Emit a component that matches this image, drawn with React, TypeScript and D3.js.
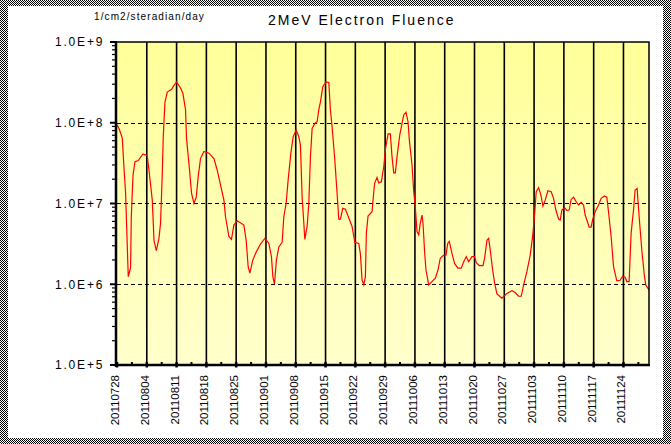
import * as d3 from "d3";
import { useEffect, useRef } from "react";

// weekly tick labels, one every 7 days from 2011-07-28
const tickLabels = [
  "20110728", "20110804", "20110811", "20110818", "20110825", "20110901",
  "20110908", "20110915", "20110922", "20110929", "20111006", "20111013",
  "20111020", "20111027", "20111103", "20111110", "20111117", "20111124",
];
const totalDays = 125; // 20110728 .. 20111130

const decades = [1e5, 1e6, 1e7, 1e8, 1e9];

// days since 20110728
const dayOffset = [
  0, 0.47, 1.24, 1.64, 2.02, 2.42, 2.65, 3.19, 3.36, 3.76,
  4.23, 5.0, 6.1, 7.11, 7.51, 8.29, 8.69, 9.23, 9.86, 10.23,
  10.63, 10.87, 11.27, 11.81, 12.82, 13.38, 13.99, 14.93, 15.49, 16.1,
  16.34, 17.04, 17.51, 18.08, 18.62, 19.08, 19.62, 20.42, 21.6, 22.77,
  23.54, 24.32, 25.12, 25.49, 26.29, 26.9, 27.46, 28.24, 29.81, 30.35,
  30.82, 31.22, 31.92, 32.7, 33.71, 34.74, 35.68, 36.29, 36.62, 37.0,
  37.46, 38.03, 38.8, 39.2, 39.74, 40.21, 40.85, 41.39, 42.09, 42.72,
  43.1, 43.5, 43.9, 44.13, 44.67, 45.07, 45.45, 45.85, 46.48, 47.02,
  47.42, 47.79, 48.36, 49.13, 49.77, 50.14, 50.54, 51.17, 51.71, 52.11,
  52.49, 53.05, 53.66, 54.46, 55.23, 55.87, 56.81, 57.18, 57.58, 57.98,
  58.36, 58.59, 58.99, 59.93, 60.33, 60.56, 61.1, 61.5, 62.11, 62.68,
  63.05, 63.69, 64.23, 64.62, 65.02, 65.4, 65.8, 66.43, 66.97, 67.37,
  67.91, 68.38, 68.69, 69.32, 69.72, 70.09, 70.49, 70.89, 71.27, 71.67,
  71.9, 72.3, 72.6, 73.24, 74.01, 74.79, 75.42, 75.96, 76.76, 77.3,
  77.7, 78.08, 78.71, 79.34, 80.12, 80.89, 81.46, 82.07, 82.63, 83.4,
  84.04, 84.41, 85.12, 85.99, 86.38, 86.92, 87.32, 87.7, 88.26, 88.73,
  89.27, 90.45, 91.62, 92.79, 93.57, 94.37, 94.98, 95.54, 96.31, 97.09,
  97.65, 98.12, 98.5, 99.06, 99.6, 100.07, 100.61, 101.24, 102.02, 102.58,
  103.12, 103.76, 104.13, 104.53, 105.16, 105.7, 106.24, 106.71, 107.28, 107.89,
  108.45, 109.06, 109.62, 110.0, 110.4, 110.94, 111.41, 111.74, 112.35, 113.15,
  113.76, 114.55, 115.09, 115.49, 116.1, 116.67, 117.44, 118.22, 118.78, 119.39,
  119.79, 120.33, 120.8, 121.36, 121.74, 122.21, 122.68, 123.31, 123.94, 124.25, 125,
];

// 1/cm2/steradian/day
const fluence = [
  9.4e7, 8.5e7, 6.5e7, 2.75e7, 1.35e7, 2.9e6, 1.24e6, 1.6e6, 6.9e6, 2.25e7,
  3.3e7, 3.4e7, 4.1e7, 3.9e7, 2.6e7, 1.1e7, 3.5e6, 2.6e6, 3.7e6, 5.7e6,
  2.25e7, 6.7e7, 1.8e8, 2.4e8, 2.6e8, 2.9e8, 3.2e8, 2.7e8, 2.3e8, 1.45e8,
  6.4e7, 2.6e7, 1.34e7, 1.0e7, 1.2e7, 2.15e7, 3.6e7, 4.4e7, 4.2e7, 3.6e7,
  2.6e7, 1.7e7, 1.1e7, 6.9e6, 3.9e6, 3.6e6, 5.4e6, 6.1e6, 5.4e6, 3.5e6,
  1.65e6, 1.37e6, 2.0e6, 2.5e6, 3.15e6, 3.7e6, 3.2e6, 2.2e6, 1.24e6, 1.0e6,
  2.0e6, 2.9e6, 3.3e6, 6.9e6, 1.0e7, 1.95e7, 4.2e7, 6.7e7, 8.1e7, 6.7e7,
  5.3e7, 1.2e7, 5.7e6, 3.6e6, 5.2e6, 1.0e7, 3.8e7, 8.5e7, 9.8e7, 1.03e8,
  1.45e8, 1.8e8, 2.8e8, 3.2e8, 3.15e8, 1.45e8, 8.9e7, 3.5e7, 1.34e7, 6.4e6,
  6.4e6, 8.7e6, 8.5e6, 6.6e6, 5.2e6, 3.3e6, 3.2e6, 2.4e6, 1.13e6, 9.8e5,
  1.24e6, 4.3e6, 7.0e6, 7.9e6, 1.4e7, 1.8e7, 2.1e7, 1.8e7, 1.85e7, 2.85e7,
  4.6e7, 7.3e7, 7.3e7, 3.8e7, 2.4e7, 2.4e7, 3.8e7, 7.0e7, 9.8e7, 1.25e8,
  1.35e8, 1.03e8, 6.1e7, 3.0e7, 1.4e7, 9.1e6, 4.5e6, 4.1e6, 5.7e6, 7.2e6,
  5.7e6, 2.4e6, 1.5e6, 9.8e5, 1.08e6, 1.19e6, 1.5e6, 2.1e6, 2.3e6, 2.3e6,
  3.2e6, 3.4e6, 2.4e6, 1.8e6, 1.58e6, 1.58e6, 1.9e6, 2.2e6, 1.9e6, 2.2e6,
  2.2e6, 1.85e6, 1.7e6, 1.7e6, 2.1e6, 3.5e6, 3.7e6, 2.65e6, 1.5e6, 1.03e6,
  7.6e5, 6.7e5, 7.7e5, 8.3e5, 7.9e5, 7.1e5, 7.1e5, 9.8e5, 1.43e6, 2.3e6,
  3.9e6, 7.2e6, 1.4e7, 1.57e7, 1.27e7, 9.3e6, 1.1e7, 1.44e7, 1.4e7, 1.16e7,
  8.3e6, 6.4e6, 6.25e6, 8.3e6, 8.9e6, 8.2e6, 8.3e6, 1.13e7, 1.2e7, 1.05e7,
  9.6e6, 1.03e7, 9.6e6, 7.2e6, 6.25e6, 5.1e6, 5.1e6, 6.25e6, 7.9e6, 9.6e6,
  1.16e7, 1.24e7, 1.2e7, 7.9e6, 3.9e6, 1.65e6, 1.1e6, 1.12e6, 1.26e6, 1.22e6,
  1.08e6, 1.08e6, 4.3e6, 8.3e6, 1.47e7, 1.54e7, 6.9e6, 2.65e6, 1.24e6, 9.8e5, 8.5e5,
];

const W = 671;
const H = 444;
const plot = { left: 117, right: 649, top: 42, bottom: 365 };
const font = "Arial, 'Liberation Sans', sans-serif";

const App = () => {
  const svgRef = useRef<SVGSVGElement | null>(null);

  useEffect(() => {
    const svg = d3.select(svgRef.current);
    svg.selectAll("*").remove();

    const x = d3.scaleLinear().domain([0, totalDays]).range([plot.left, plot.right]);
    const y = d3.scaleLog().domain([1e5, 1e9]).range([plot.bottom, plot.top]);

    const defs = svg.append("defs");
    const pat = defs
      .append("pattern")
      .attr("id", "checker")
      .attr("width", 2)
      .attr("height", 2)
      .attr("patternUnits", "userSpaceOnUse");
    pat.append("rect").attr("width", 2).attr("height", 2).attr("fill", "#fff");
    pat.append("rect").attr("width", 1).attr("height", 1).attr("fill", "#000");
    pat.append("rect").attr("x", 1).attr("y", 1).attr("width", 1).attr("height", 1).attr("fill", "#000");

    const grad = defs
      .append("linearGradient")
      .attr("id", "bg")
      .attr("x1", "0%")
      .attr("y1", "0%")
      .attr("x2", "0%")
      .attr("y2", "100%");
    grad.append("stop").attr("offset", "0%").attr("stop-color", "#ffff99");
    grad.append("stop").attr("offset", "100%").attr("stop-color", "#ffffcc");

    defs
      .append("clipPath")
      .attr("id", "plotclip")
      .append("rect")
      .attr("x", plot.left)
      .attr("y", plot.top)
      .attr("width", plot.right - plot.left)
      .attr("height", plot.bottom - plot.top);

    // frame
    svg.append("rect").attr("width", W).attr("height", H).attr("fill", "url(#checker)");
    svg.append("rect").attr("x", 8).attr("y", 6).attr("width", 655).attr("height", 432).attr("fill", "#fff");

    svg
      .append("rect")
      .attr("x", plot.left)
      .attr("y", plot.top)
      .attr("width", plot.right - plot.left)
      .attr("height", plot.bottom - plot.top)
      .attr("fill", "url(#bg)");

    // horizontal dashed grid
    svg
      .append("g")
      .selectAll("line")
      .data(decades.slice(1, -1))
      .enter()
      .append("line")
      .attr("x1", plot.left)
      .attr("x2", plot.right)
      .attr("y1", (d) => Math.round(y(d)) + 0.5)
      .attr("y2", (d) => Math.round(y(d)) + 0.5)
      .attr("stroke", "#000")
      .attr("stroke-width", 1.2)
      .attr("stroke-dasharray", "4,3");

    // vertical grid
    svg
      .append("g")
      .selectAll("line")
      .data(tickLabels.slice(1))
      .enter()
      .append("line")
      .attr("x1", (_, i) => x((i + 1) * 7))
      .attr("x2", (_, i) => x((i + 1) * 7))
      .attr("y1", plot.top)
      .attr("y2", plot.bottom)
      .attr("stroke", "#000")
      .attr("stroke-width", 1.6);

    // data line
    const pts = dayOffset.map((d, i) => [d, fluence[i]] as [number, number]);
    svg
      .append("path")
      .datum(pts)
      .attr("clip-path", "url(#plotclip)")
      .attr("fill", "none")
      .attr("stroke", "#ff0000")
      .attr("stroke-width", 1.2)
      .attr(
        "d",
        d3
          .line<[number, number]>()
          .x((d) => x(d[0]))
          .y((d) => y(d[1]))
      );

    // plot border top/right
    svg
      .append("path")
      .attr("d", `M${plot.left},${plot.top}H${plot.right}V${plot.bottom}`)
      .attr("fill", "none")
      .attr("stroke", "#000")
      .attr("stroke-width", 1.5);

    // axes lines
    svg
      .append("line")
      .attr("x1", plot.left - 1)
      .attr("x2", plot.left - 1)
      .attr("y1", plot.top - 1)
      .attr("y2", plot.bottom + 2)
      .attr("stroke", "#000")
      .attr("stroke-width", 2.5);
    svg
      .append("line")
      .attr("x1", plot.left - 2)
      .attr("x2", plot.right + 1)
      .attr("y1", plot.bottom)
      .attr("y2", plot.bottom)
      .attr("stroke", "#000")
      .attr("stroke-width", 2.5);

    // y ticks
    const minor: number[] = [];
    decades.slice(0, -1).forEach((d) => {
      for (let m = 2; m <= 9; m++) minor.push(d * m);
    });
    svg
      .append("g")
      .selectAll("line")
      .data(minor)
      .enter()
      .append("line")
      .attr("x1", plot.left - 5)
      .attr("x2", plot.left)
      .attr("y1", (d) => y(d))
      .attr("y2", (d) => y(d))
      .attr("stroke", "#000")
      .attr("stroke-width", 1.2);
    svg
      .append("g")
      .selectAll("line")
      .data(decades)
      .enter()
      .append("line")
      .attr("x1", plot.left - 7)
      .attr("x2", plot.left)
      .attr("y1", (d) => y(d))
      .attr("y2", (d) => y(d))
      .attr("stroke", "#000")
      .attr("stroke-width", 2);

    svg
      .append("g")
      .selectAll("text")
      .data(decades)
      .enter()
      .append("text")
      .attr("x", 55)
      .attr("y", (d) => y(d))
      .attr("dy", "0.36em")
      .attr("font-family", font)
      .attr("font-size", 12)
      .attr("letter-spacing", 1.8)
      .attr("fill", "#000")
      .text((d) => `1.0E+${Math.round(Math.log10(d))}`);

    // x ticks
    svg
      .append("g")
      .selectAll("line")
      .data(tickLabels)
      .enter()
      .append("line")
      .attr("x1", (_, i) => x(i * 7))
      .attr("x2", (_, i) => x(i * 7))
      .attr("y1", plot.bottom - 3)
      .attr("y2", plot.bottom + 2.5)
      .attr("stroke", "#000")
      .attr("stroke-width", 2.5);
    svg
      .append("g")
      .selectAll("line")
      .data(d3.range(3.5, totalDays, 7))
      .enter()
      .append("line")
      .attr("x1", (d) => x(d))
      .attr("x2", (d) => x(d))
      .attr("y1", plot.bottom - 3)
      .attr("y2", plot.bottom)
      .attr("stroke", "#000")
      .attr("stroke-width", 2);

    svg
      .append("g")
      .selectAll("text")
      .data(tickLabels)
      .enter()
      .append("text")
      .attr("transform", (_, i) => `translate(${x(i * 7) + 2},375) rotate(-90)`)
      .attr("text-anchor", "end")
      .attr("font-family", font)
      .attr("font-size", 11.5)
      .attr("fill", "#000")
      .text((d) => d);

    // titles
    svg
      .append("text")
      .attr("x", 268)
      .attr("y", 25)
      .attr("font-family", font)
      .attr("font-size", 14)
      .attr("letter-spacing", 2)
      .attr("fill", "#000")
      .text("2MeV Electron Fluence");
    svg
      .append("text")
      .attr("x", 94)
      .attr("y", 20)
      .attr("font-family", font)
      .attr("font-size", 10)
      .attr("letter-spacing", 1.1)
      .attr("fill", "#000")
      .text("1/cm2/steradian/day");
  }, []);

  return (
    <svg
      ref={svgRef}
      width={W}
      height={H}
      style={{ position: "absolute", left: 0, top: 0 }}
    />
  );
};

export default App;
